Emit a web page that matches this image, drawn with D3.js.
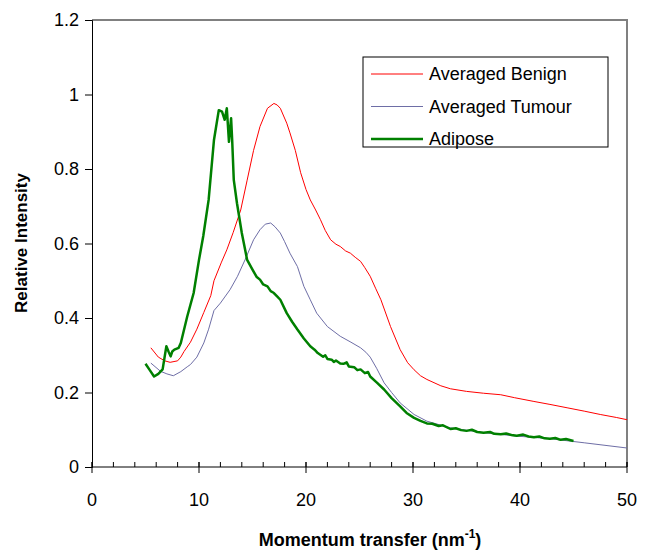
<!DOCTYPE html>
<html>
<head>
<meta charset="utf-8">
<script src="https://cdn.jsdelivr.net/npm/d3@7"></script>
<style>
  body { margin: 0; background: #fff; }
  text { font-family: Arial, "Liberation Sans", sans-serif; }
</style>
</head>
<body>
<div id="chart"></div>
<script>
// dados (momentum transfer, intensidade relativa)
const benign = [
  [5.5,0.32],[6.2,0.295],[6.8,0.285],[7.3,0.281],[8.0,0.285],[8.3,0.295],[8.6,0.31],[9.2,0.335],
  [9.8,0.37],[10.45,0.415],[11.1,0.46],[11.4,0.5],[12.1,0.55],[12.6,0.583],[13.2,0.63],[13.9,0.69],
  [14.5,0.77],[15.1,0.85],[15.7,0.914],[16.4,0.963],[17.0,0.976],[17.3,0.972],[17.6,0.963],[18.2,0.923],
  [18.5,0.897],[19.0,0.85],[19.5,0.79],[20.0,0.745],[20.4,0.717],[20.9,0.69],[21.35,0.664],[21.8,0.635],
  [22.3,0.61],[22.8,0.598],[23.2,0.592],[23.7,0.58],[24.15,0.574],[24.6,0.563],[25.1,0.552],[25.5,0.535],
  [26.0,0.512],[26.5,0.48],[27.0,0.449],[27.9,0.377],[28.8,0.315],[29.5,0.28],[30.1,0.261],[30.7,0.245],
  [31.3,0.235],[32.6,0.218],[33.5,0.21],[35.0,0.203],[36.6,0.198],[38.2,0.194],[39.5,0.186],[41.3,0.176],
  [42.8,0.168],[44.4,0.159],[46.0,0.15],[47.5,0.141],[49.0,0.133],[50,0.127]
];
const tumour = [
  [5.5,0.279],[6.4,0.257],[7.0,0.25],[7.6,0.245],[8.3,0.256],[8.9,0.269],[9.2,0.275],[9.8,0.295],
  [10.45,0.333],[10.9,0.37],[11.4,0.42],[12.0,0.44],[12.9,0.476],[13.6,0.512],[14.3,0.556],[15.1,0.61],
  [15.7,0.637],[16.2,0.652],[16.7,0.655],[17.1,0.645],[17.6,0.628],[18.0,0.605],[18.5,0.574],[19.2,0.538],
  [19.8,0.485],[20.4,0.449],[21.0,0.413],[22.0,0.377],[23.2,0.351],[24.2,0.335],[25.1,0.32],[25.6,0.308],
  [26.0,0.295],[26.6,0.265],[27.3,0.226],[28.0,0.2],[28.8,0.172],[30.1,0.141],[31.3,0.123],[33.5,0.105],
  [36.6,0.092],[39.7,0.083],[42.8,0.076],[46.0,0.065],[50,0.051]
];
const adipose = [
  [5.0,0.277],[5.4,0.26],[5.8,0.243],[6.2,0.25],[6.6,0.262],[6.95,0.324],[7.15,0.31],[7.35,0.297],
  [7.5,0.31],[7.7,0.315],[8.1,0.32],[8.3,0.333],[8.9,0.404],[9.5,0.467],[10.0,0.556],[10.4,0.62],
  [10.9,0.717],[11.4,0.878],[11.85,0.958],[12.15,0.954],[12.4,0.932],[12.6,0.963],[12.8,0.873],[13.0,0.936],
  [13.1,0.878],[13.25,0.771],[13.55,0.708],[14.0,0.628],[14.5,0.556],[15.0,0.53],[15.4,0.51],[15.7,0.503],
  [16.0,0.49],[16.4,0.485],[16.7,0.472],[17.0,0.467],[17.3,0.458],[17.6,0.449],[18.2,0.413],[18.7,0.39],
  [19.2,0.369],[19.8,0.345],[20.4,0.324],[20.8,0.315],[21.1,0.306],[21.3,0.302],[21.6,0.296],[21.8,0.3],
  [22.0,0.29],[22.4,0.288],[22.6,0.282],[22.8,0.286],[23.2,0.278],[23.5,0.277],[23.8,0.281],[24.0,0.27],
  [24.5,0.268],[24.8,0.26],[25.1,0.262],[25.5,0.252],[25.8,0.255],[26.0,0.243],[26.6,0.227],[27.3,0.208],
  [28.0,0.185],[28.8,0.163],[29.4,0.145],[30.1,0.132],[30.7,0.124],[31.3,0.117],[31.8,0.116],[32.4,0.11],
  [32.8,0.112],[33.5,0.102],[34.0,0.104],[34.5,0.099],[35.0,0.097],[35.5,0.1],[36.0,0.094],[36.6,0.092],
  [37.2,0.094],[37.6,0.089],[38.2,0.088],[38.7,0.09],[39.2,0.086],[39.7,0.084],[40.3,0.087],[40.8,0.082],
  [41.3,0.08],[41.8,0.082],[42.3,0.077],[42.8,0.076],[43.3,0.078],[43.8,0.073],[44.3,0.075],[45.0,0.07]
];

const series = [
  { name: "Averaged Benign", data: benign, color: "#ff0000", width: 1 },
  { name: "Averaged Tumour", data: tumour, color: "#6e6ea6", width: 1 },
  { name: "Adipose", data: adipose, color: "#008000", width: 2.5 }
];
const xTicks = [0, 10, 20, 30, 40, 50];
const yTicks = [0, 0.2, 0.4, 0.6, 0.8, 1, 1.2];

const width = 652, height = 551;
const margin = { left: 92, right: 25, top: 20, bottom: 84 };

const svg = d3.select("#chart").append("svg")
  .attr("width", width)
  .attr("height", height);

const x = d3.scaleLinear().domain([0, 50]).range([margin.left, width - margin.right]);
const y = d3.scaleLinear().domain([0, 1.2]).range([height - margin.bottom, margin.top]);

// borda da área do gráfico (cinza, topo e direita)
svg.append("path")
  .attr("d", `M${x(0)},${y(1.2)}H${x(50)}V${y(0)}`)
  .attr("fill", "none")
  .attr("stroke", "#808080")
  .attr("stroke-width", 2);

// linhas das séries
const line = d3.line().x(d => x(d[0])).y(d => y(d[1]));
series.forEach(s => {
  svg.append("path")
    .datum(s.data)
    .attr("fill", "none")
    .attr("stroke", s.color)
    .attr("stroke-width", s.width)
    .attr("stroke-linejoin", "round")
    .attr("d", line);
});

// eixo x: ticks menores para dentro, maiores cruzando
const xMinor = d3.range(0, 51, 2);
svg.selectAll(".minor").data(xMinor).enter().append("line")
  .attr("x1", d => x(d)).attr("x2", d => x(d))
  .attr("y1", y(0) - 5).attr("y2", y(0))
  .attr("stroke", "#000");
svg.selectAll(".major").data(xTicks).enter().append("line")
  .attr("x1", d => x(d)).attr("x2", d => x(d))
  .attr("y1", y(0) - 5).attr("y2", y(0) + 6)
  .attr("stroke", "#000");
svg.append("line")
  .attr("x1", x(0)).attr("x2", x(50))
  .attr("y1", y(0)).attr("y2", y(0))
  .attr("stroke", "#000");
svg.selectAll(".xlab").data(xTicks).enter().append("text")
  .attr("x", d => x(d))
  .attr("y", y(0) + 39)
  .attr("text-anchor", "middle")
  .attr("font-size", 18)
  .text(d => d);

// eixo y
const yAxis = svg.append("g")
  .attr("transform", `translate(${x(0)},0)`)
  .call(d3.axisLeft(y).tickValues(yTicks).tickSize(7).tickPadding(6).tickFormat(d => d));
yAxis.select(".domain").attr("stroke", "#000");
yAxis.selectAll("text").attr("font-size", 18).attr("font-family", "Arial, 'Liberation Sans', sans-serif").attr("fill", "#000");

// títulos dos eixos
const xt = svg.append("text")
  .attr("x", 370).attr("y", 546)
  .attr("text-anchor", "middle")
  .attr("font-size", 18).attr("font-weight", "bold");
xt.append("tspan").text("Momentum transfer (nm");
xt.append("tspan").attr("font-size", 12).attr("dy", -8).text("-1");
xt.append("tspan").attr("dy", 8).text(")");

svg.append("text")
  .attr("transform", `translate(27,243) rotate(-90)`)
  .attr("text-anchor", "middle")
  .attr("font-size", 17).attr("font-weight", "bold")
  .text("Relative Intensity");

// legenda
const lg = svg.append("g").attr("transform", "translate(363,57)");
lg.append("rect")
  .attr("width", 245).attr("height", 90)
  .attr("fill", "#fff").attr("stroke", "#000");
series.forEach((s, i) => {
  const yy = 17 + i * 32.5;
  lg.append("line")
    .attr("x1", 8).attr("x2", 60)
    .attr("y1", yy).attr("y2", yy)
    .attr("stroke", s.color)
    .attr("stroke-width", s.width);
  lg.append("text")
    .attr("x", 66).attr("y", yy + 6)
    .attr("font-size", 18)
    .text(s.name);
});
</script>
</body>
</html>
